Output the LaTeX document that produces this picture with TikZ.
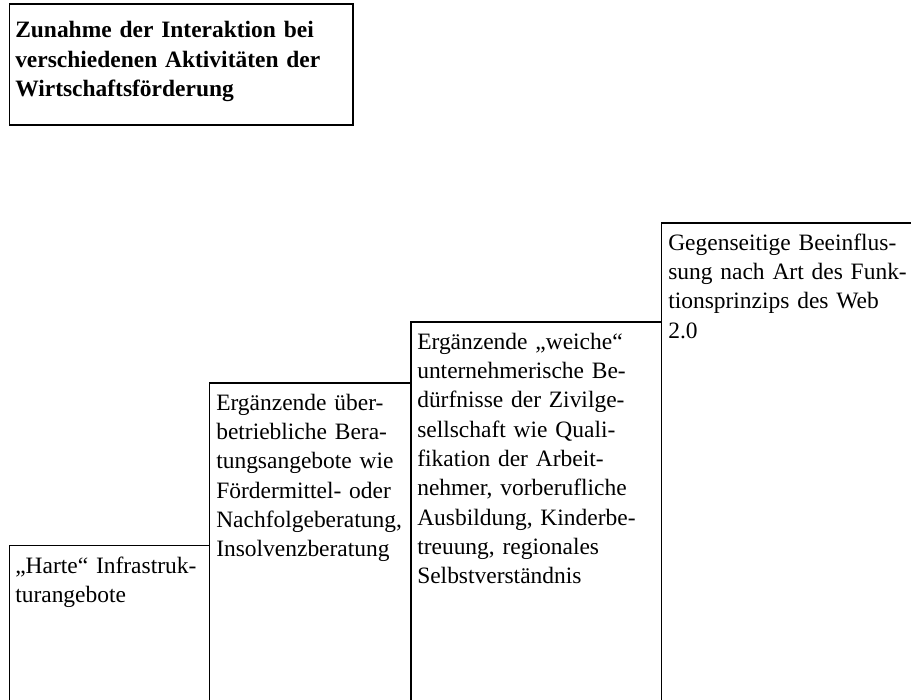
\documentclass[tikz,border=0pt]{standalone}
\usepackage{fontspec}
\setmainfont[Ligatures=CommonOff]{Liberation Serif}
\begin{document}
\begin{tikzpicture}[x=0.75pt,y=-0.75pt,
  frame/.style={draw=black,line width=1.2pt},
  txt/.style={anchor=north west,align=left,inner sep=0pt,text width=240pt,
    font=\fontsize{17.6pt}{22pt}\selectfont},
  ttl/.style={txt,font=\fontsize{17.6pt}{22pt}\selectfont\bfseries}]
\useasboundingbox (0,0) rectangle (911,700);
\clip (0,0) rectangle (911,700);

% heading box
\draw[frame] (9.5,4) rectangle (353,125);
\node[ttl] (title) at (15,17) {\strut Zunahme der Interaktion bei\\verschiedenen Aktivitäten der\\Wirtschaftsförderung};

% four steps, rising from left to right
\draw[frame] (9.5,545.5) rectangle (209.5,710);
\draw[frame] (209.5,383) rectangle (411,710);
\draw[frame] (411,322) rectangle (661.5,710);
\draw[frame] (661.5,223) rectangle (915,710);

\node[txt] (s1) at (15,552.5) {\strut „Harte“ Infrastruk-\\turangebote};
\node[txt] (s2) at (216,389.5) {\strut Ergänzende über-\\betriebliche Bera-\\tungsangebote wie\\Fördermittel- oder\\Nachfolgeberatung,\\Insolvenzberatung};
\node[txt] (s3) at (417,328.5) {\strut Ergänzende „weiche“\\unternehmerische Be-\\dürfnisse der Zivilge-\\sellschaft wie Quali-\\fikation der Arbeit-\\nehmer, vorberufliche\\Ausbildung, Kinderbe-\\treuung, regionales\\Selbstverständnis};
\node[txt] (s4) at (668,229.5) {\strut Gegenseitige Beeinflus-\\sung nach Art des Funk-\\tionsprinzips des Web\\2.0};
\end{tikzpicture}
\end{document}
